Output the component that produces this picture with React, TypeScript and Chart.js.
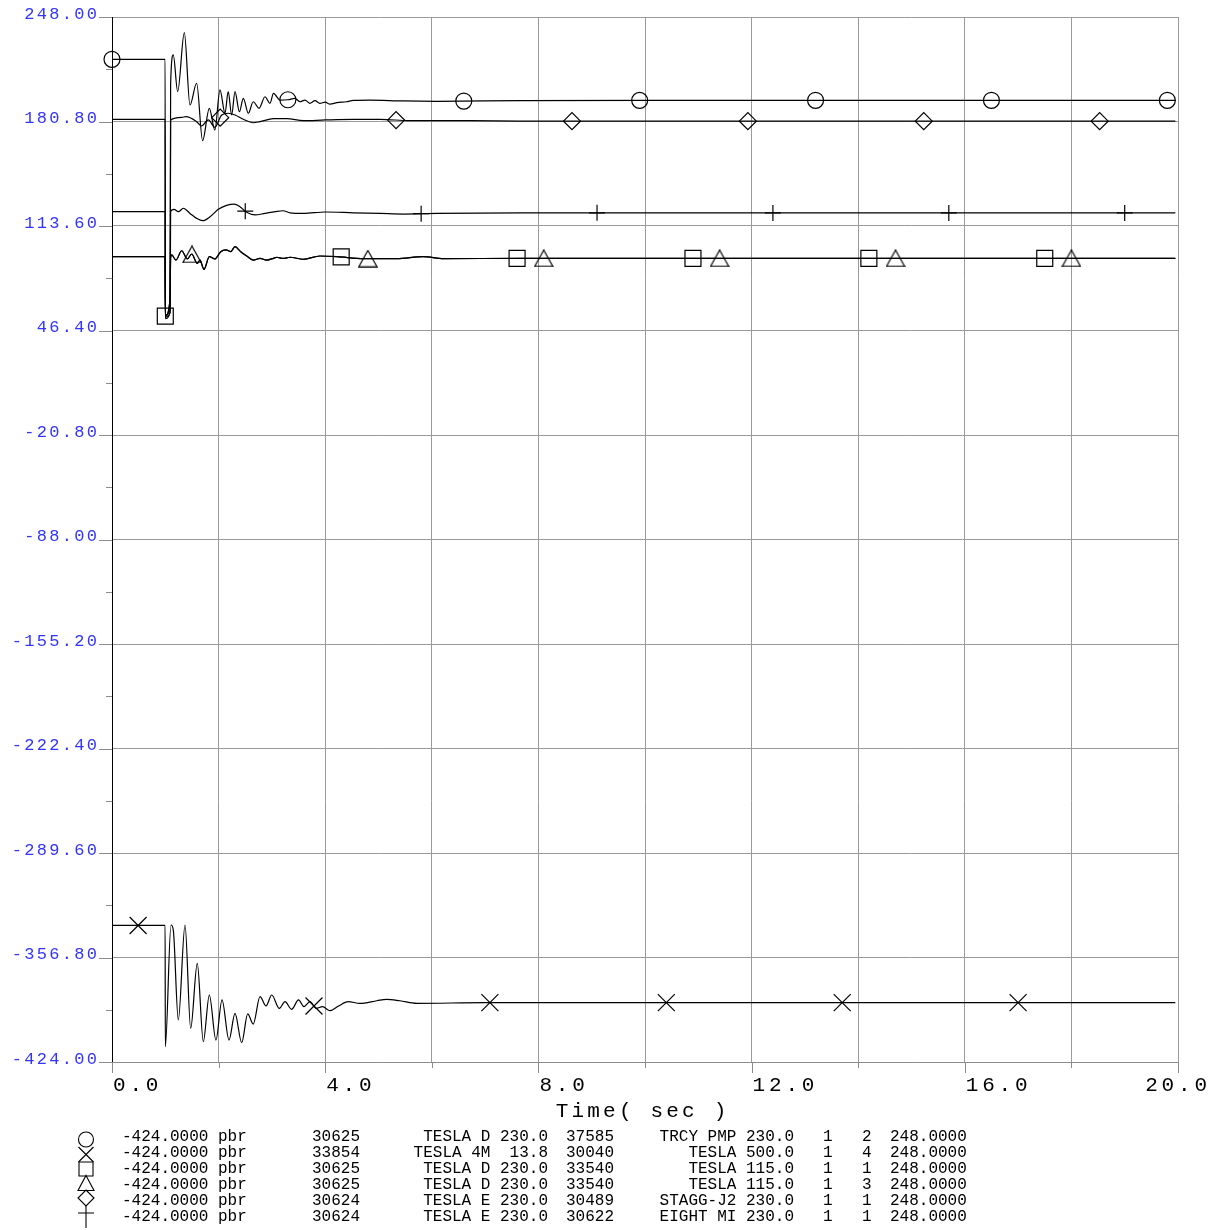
import React, { useEffect, useRef } from 'react';
import { Chart, registerables } from 'chart.js';

Chart.register(...registerables);

// ---------- axes ----------
const X_MIN = 0;
const X_MAX = 20;
const X_GRID = [0, 2, 4, 6, 8, 10, 12, 14, 16, 18, 20];
const X_LABEL_VALUES = [0, 4, 8, 12, 16, 20];
const X_LABELS = ['0.0', '4.0', '8.0', '12.0', '16.0', '20.0'];
const X_TITLE = 'Time( sec )';

const Y_MIN = -424;
const Y_MAX = 248;
const Y_TICKS = [248, 180.8, 113.6, 46.4, -20.8, -88, -155.2, -222.4, -289.6, -356.8, -424];
const Y_LABELS = ['248.00', '180.80', '113.60', '46.40', '-20.80', '-88.00', '-155.20', '-222.40', '-289.60', '-356.80', '-424.00'];

// ---------- series (time s, value) ----------
const trcyPmp: [number, number][] = [
  [0, 220.8], [0.997, 220.8], [1.0, 56.5], [1.09, 60], [1.1, 205], [1.15, 223.6], [1.232, 200],
  [1.357, 237.9], [1.463, 191.4], [1.588, 205.4], [1.7, 168.5], [1.826, 189.3], [1.93, 175.3],
  [2.026, 201.1], [2.12, 186.1], [2.18, 200], [2.245, 185], [2.308, 200], [2.39, 187.1],
  [2.464, 195.7], [2.558, 186.1], [2.65, 193.5], [2.76, 189.3], [2.87, 196.7], [2.964, 192.5],
  [3.03, 198.9], [3.15, 194.6], [3.3, 194.8], [3.43, 195.7], [3.53, 193.5], [3.62, 194.6],
  [3.71, 192.5], [3.81, 194.2], [3.9, 192.5], [4.0, 193.2], [4.09, 192], [4.22, 192.9],
  [4.4, 193.5], [4.53, 194.4], [4.84, 194.6], [5.46, 194], [6.09, 193.8], [7.65, 194.2],
  [10, 194.4], [14, 194.4], [19.95, 194.4],
];

const tesla500: [number, number][] = [
  [0, -336.2], [0.997, -336.2], [1.0, -414.2], [1.107, -335.9], [1.15, -339.1], [1.244, -397],
  [1.37, -335.9], [1.476, -402.4], [1.6, -360.6], [1.713, -410.9], [1.826, -380.9], [1.95, -409.9],
  [2.064, -384.1], [2.195, -409.9], [2.308, -392.7], [2.433, -411.6], [2.546, -393.1], [2.65, -399.6],
  [2.777, -382], [2.89, -388], [2.996, -380.9], [3.14, -389.5], [3.246, -385.2], [3.37, -390.1],
  [3.5, -384.1], [3.6, -388.4], [3.715, -385.2], [3.83, -389.5], [3.95, -388.4], [4.09, -391],
  [4.25, -388], [4.43, -385.2], [4.65, -386.3], [4.97, -384.6], [5.15, -383.7], [5.4, -384.6],
  [5.72, -386.3], [7, -385.8], [12, -385.8], [19.95, -385.8],
];

const tesla115_1: [number, number][] = [
  [0, 93.9], [0.997, 93.9], [1.0, 55.7], [1.09, 67], [1.1, 93], [1.12, 95], [1.2, 91.7],
  [1.307, 97.7], [1.413, 92.4], [1.495, 95.6], [1.6, 89.6], [1.65, 91.7], [1.726, 85.7],
  [1.826, 93.9], [1.93, 92.4], [2.04, 97.1], [2.14, 98.2], [2.227, 97.1], [2.308, 100.3],
  [2.415, 97.1], [2.527, 94.3], [2.65, 91.7], [2.777, 92.8], [2.9, 91.7], [3.03, 92.8],
  [3.09, 93.5], [3.21, 92.8], [3.34, 93.5], [3.59, 92.2], [3.9, 94.3], [4.22, 93.9],
  [4.72, 92.6], [5.34, 92.6], [5.84, 93.9], [6.22, 92.6], [7.65, 92.8], [12, 92.8], [19.95, 92.8],
];

const tesla115_3: [number, number][] = tesla115_1;

const staggJ2: [number, number][] = [
  [0, 182.2], [0.997, 182.2], [1.0, 55], [1.09, 58], [1.1, 181.8], [1.307, 183.5], [1.388, 183.9],
  [1.588, 180.7], [1.68, 177.9], [1.807, 181.8], [1.93, 177.1], [2.058, 185], [2.18, 186.1],
  [2.308, 185], [2.464, 182.2], [2.65, 180], [2.776, 180.7], [3.03, 182.6], [3.28, 182.6],
  [3.59, 181.3], [4.0, 181.8], [4.53, 182.2], [5.03, 182.2], [5.59, 181.3], [6.72, 181.3],
  [7.65, 181], [12, 181], [19.95, 181],
];

const eightMi: [number, number][] = [
  [0, 122.8], [0.997, 122.8], [1.0, 54], [1.09, 58], [1.1, 123], [1.163, 124.3], [1.245, 122.8],
  [1.338, 125], [1.463, 121.7], [1.588, 118.5], [1.7, 117], [1.84, 119.6], [1.995, 124.3],
  [2.15, 126.9], [2.29, 127.7], [2.4, 126], [2.527, 122.4], [2.683, 120.7], [2.87, 121.7],
  [3.06, 122.8], [3.21, 123.4], [3.34, 122.1], [3.59, 121.7], [4.0, 122.6], [4.53, 122.1],
  [5.03, 121.7], [5.47, 121.3], [6.09, 121.7], [7.65, 122.1], [12, 122], [19.95, 122],
];

// marker times (s) for each series
const circleMarkT = [0, 3.3, 6.6, 9.9, 13.2, 16.5, 19.8];
const crossMarkT = [0.49, 3.79, 7.09, 10.4, 13.7, 17.0];
const squareMarkT = [1.0, 4.3, 7.6, 10.9, 14.2, 17.5];
const triangleMarkT = [1.5, 4.8, 8.1, 11.4, 14.7, 18.0];
const diamondMarkT = [2.03, 5.33, 8.63, 11.93, 15.23, 18.53];
const plusMarkT = [2.5, 5.8, 9.1, 12.4, 15.7, 19.0];

// ---------- legend table ----------
const LEG_MIN = ['-424.0000 pbr', '-424.0000 pbr', '-424.0000 pbr', '-424.0000 pbr', '-424.0000 pbr', '-424.0000 pbr'];
const LEG_FROM_BUS = ['30625', '33854', '30625', '30625', '30624', '30624'];
const LEG_FROM_NAME = ['TESLA D 230.0', 'TESLA 4M  13.8', 'TESLA D 230.0', 'TESLA D 230.0', 'TESLA E 230.0', 'TESLA E 230.0'];
const LEG_TO_BUS = ['37585', '30040', '33540', '33540', '30489', '30622'];
const LEG_TO_NAME = ['TRCY PMP 230.0', 'TESLA 500.0', 'TESLA 115.0', 'TESLA 115.0', 'STAGG-J2 230.0', 'EIGHT MI 230.0'];
const LEG_SECT = ['1', '1', '1', '1', '1', '1'];
const LEG_CKT = ['2', '4', '1', '3', '1', '1'];
const LEG_MAX = ['248.0000', '248.0000', '248.0000', '248.0000', '248.0000', '248.0000'];
const LEG_SYMBOLS = ['circle', 'cross', 'square', 'triangle', 'diamond', 'plus'];

function interp(series: [number, number][], t: number): number {
  for (let i = 0; i < series.length - 1; i++) {
    const [t0, v0] = series[i];
    const [t1, v1] = series[i + 1];
    if (t <= t1) {
      if (t1 === t0) return v1;
      return v0 + ((t - t0) / (t1 - t0)) * (v1 - v0);
    }
  }
  return series[series.length - 1][1];
}

function makeTriangleImage(): HTMLCanvasElement {
  const c = document.createElement('canvas');
  c.width = 20;
  c.height = 18;
  const g = c.getContext('2d')!;
  g.strokeStyle = '#000';
  g.lineWidth = 1.2;
  g.beginPath();
  g.moveTo(10, 0.8);
  g.lineTo(19.2, 17.2);
  g.lineTo(0.8, 17.2);
  g.closePath();
  g.stroke();
  return c;
}

function curve(label: string, data: [number, number][]) {
  return {
    label,
    data: data.map(([x, y]) => ({ x, y })),
    borderColor: '#000',
    borderWidth: 1.2,
    pointRadius: 0,
    pointHoverRadius: 0,
    fill: false,
    cubicInterpolationMode: 'monotone',
  };
}

function markers(label: string, data: [number, number][], times: number[], style: any, r: number) {
  return {
    label,
    data: times.map((t) => ({ x: t, y: interp(data, t) })),
    showLine: false,
    pointStyle: style,
    pointRadius: r,
    pointHoverRadius: r,
    pointBorderWidth: 1.2,
    borderColor: '#000',
    pointBorderColor: '#000',
    backgroundColor: 'rgba(0,0,0,0)',
    pointBackgroundColor: 'rgba(0,0,0,0)',
    clip: false,
  };
}

function spaced(ctx: CanvasRenderingContext2D, text: string, x: number, y: number, align: string, ls: number) {
  const c = ctx as any;
  c.letterSpacing = ls + 'px';
  const w = ctx.measureText(text).width - ls;
  const left = align === 'left' ? x : align === 'right' ? x - w : x - w / 2;
  ctx.textAlign = 'left';
  ctx.fillText(text, left, y);
  c.letterSpacing = '0px';
  return w;
}

function drawSymbol(ctx: CanvasRenderingContext2D, kind: string, x: number, y: number) {
  ctx.beginPath();
  if (kind === 'circle') {
    ctx.arc(x, y, 7.5, 0, Math.PI * 2);
  } else if (kind === 'cross') {
    ctx.moveTo(x - 7.5, y - 7.5); ctx.lineTo(x + 7.5, y + 7.5);
    ctx.moveTo(x + 7.5, y - 7.5); ctx.lineTo(x - 7.5, y + 7.5);
  } else if (kind === 'square') {
    ctx.rect(x - 7, y - 7, 14, 14);
  } else if (kind === 'triangle') {
    ctx.moveTo(x, y - 7.5); ctx.lineTo(x + 8, y + 7.5); ctx.lineTo(x - 8, y + 7.5); ctx.closePath();
  } else if (kind === 'diamond') {
    ctx.moveTo(x, y - 8); ctx.lineTo(x + 8, y); ctx.lineTo(x, y + 8); ctx.lineTo(x - 8, y); ctx.closePath();
  } else if (kind === 'plus') {
    ctx.moveTo(x, y - 8); ctx.lineTo(x, y + 15);
    ctx.moveTo(x - 8, y); ctx.lineTo(x + 8, y);
  }
  ctx.stroke();
}

const decorPlugin = {
  id: 'decor',
  afterDraw(chart: any) {
    const ctx: CanvasRenderingContext2D = chart.ctx;
    const xs = chart.scales.x;
    const ys = chart.scales.y;
    const area = chart.chartArea;
    const W = chart.width;
    ctx.save();

    // tick marks
    ctx.strokeStyle = '#8c8c8c';
    ctx.lineWidth = 1;
    ctx.beginPath();
    Y_TICKS.forEach((v, i) => {
      const y = Math.round(ys.getPixelForValue(v)) + 0.5;
      ctx.moveTo(area.left - 13, y);
      ctx.lineTo(area.left, y);
      if (i < Y_TICKS.length - 1) {
        const ym = Math.round(ys.getPixelForValue((v + Y_TICKS[i + 1]) / 2)) + 0.5;
        ctx.moveTo(area.left - 6, ym);
        ctx.lineTo(area.left, ym);
      }
    });
    X_GRID.forEach((v) => {
      const x = Math.round(xs.getPixelForValue(v)) + 0.5;
      const major = X_LABEL_VALUES.includes(v);
      ctx.moveTo(x, area.bottom);
      ctx.lineTo(x, area.bottom + (major ? 11 : 6));
    });
    ctx.stroke();

    // y labels
    ctx.fillStyle = '#3333ff';
    ctx.font = '17px "Liberation Mono", "DejaVu Sans Mono", monospace';
    ctx.textBaseline = 'alphabetic';
    Y_TICKS.forEach((v, i) => {
      const y = ys.getPixelForValue(v);
      spaced(ctx, Y_LABELS[i], 97, y + 1.5, 'right', 2.3);
    });

    // x labels
    ctx.fillStyle = '#000';
    ctx.font = '21px "Liberation Mono", "DejaVu Sans Mono", monospace';
    X_LABEL_VALUES.forEach((v, i) => {
      const x = xs.getPixelForValue(v) + 1;
      const c = ctx as any;
      c.letterSpacing = '3.8px';
      const w = ctx.measureText(X_LABELS[i]).width - 3.8;
      c.letterSpacing = '0px';
      const left = x + w > W - 10 ? W - 10 - w : x;
      spaced(ctx, X_LABELS[i], left, 1091, 'left', 3.8);
    });

    // x title
    spaced(ctx, X_TITLE, (area.left + area.right) / 2 - 4, 1117, 'center', 3.2);

    // legend
    ctx.font = '16px "Liberation Mono", "DejaVu Sans Mono", monospace';
    ctx.fillStyle = '#000';
    const symY = [1139.5, 1154.5, 1169, 1183, 1198, 1213];
    for (let r = 0; r < 6; r++) {
      const y = 1141 + r * 16;
      spaced(ctx, LEG_MIN[r], 122, y, 'left', 0);
      spaced(ctx, LEG_FROM_BUS[r], 312, y, 'left', 0);
      spaced(ctx, LEG_FROM_NAME[r], 548, y, 'right', 0);
      spaced(ctx, LEG_TO_BUS[r], 566, y, 'left', 0);
      spaced(ctx, LEG_TO_NAME[r], 794, y, 'right', 0);
      spaced(ctx, LEG_SECT[r], 823, y, 'left', 0);
      spaced(ctx, LEG_CKT[r], 862, y, 'left', 0);
      spaced(ctx, LEG_MAX[r], 890, y, 'left', 0);
      ctx.strokeStyle = '#000';
      ctx.lineWidth = 1.1;
      drawSymbol(ctx, LEG_SYMBOLS[r], 86, symY[r]);
    }
    ctx.restore();
  },
};

export default function App() {
  const ref = useRef<HTMLCanvasElement>(null);
  useEffect(() => {
    const canvas = ref.current;
    if (!canvas) return;
    const tri = makeTriangleImage();
    const chart = new Chart(canvas, {
      type: 'line',
      data: {
        datasets: [
          curve('TRCY PMP 230.0', trcyPmp),
          curve('TESLA 500.0', tesla500),
          curve('TESLA 115.0 #1', tesla115_1),
          curve('TESLA 115.0 #3', tesla115_3),
          curve('STAGG-J2 230.0', staggJ2),
          curve('EIGHT MI 230.0', eightMi),
          markers('m1', trcyPmp, circleMarkT, 'circle', 8),
          markers('m2', tesla500, crossMarkT, 'crossRot', 12),
          markers('m3', tesla115_1, squareMarkT, 'rect', 11.3),
          markers('m4', tesla115_3, triangleMarkT, tri, 10),
          markers('m5', staggJ2, diamondMarkT, 'rectRot', 8.5),
          markers('m6', eightMi, plusMarkT, 'cross', 8),
        ] as any,
      },
      options: {
        animation: false,
        responsive: false,
        devicePixelRatio: 1,
        events: [],
        layout: { padding: { left: 112, top: 17, right: 39, bottom: 168 } },
        plugins: { legend: { display: false }, tooltip: { enabled: false } },
        scales: {
          x: {
            type: 'linear',
            min: X_MIN,
            max: X_MAX,
            afterBuildTicks: (s: any) => { s.ticks = X_GRID.map((value) => ({ value })); },
            ticks: { display: false },
            grid: { color: '#9a9a9a', lineWidth: 1, drawTicks: false },
            border: { color: '#8c8c8c', width: 1 },
          },
          y: {
            type: 'linear',
            min: Y_MIN,
            max: Y_MAX,
            afterBuildTicks: (s: any) => { s.ticks = Y_TICKS.map((value) => ({ value })); },
            ticks: { display: false },
            grid: { color: '#9a9a9a', lineWidth: 1, drawTicks: false },
            border: { color: '#000', width: 1 },
          },
        },
      } as any,
      plugins: [decorPlugin],
    });
    return () => chart.destroy();
  }, []);
  return (
    <div style={{ position: 'absolute', left: 0, top: 0, width: 1217, height: 1230, background: '#fff' }}>
      <canvas ref={ref} width={1217} height={1230} style={{ display: 'block', width: 1217, height: 1230 }} />
    </div>
  );
}
